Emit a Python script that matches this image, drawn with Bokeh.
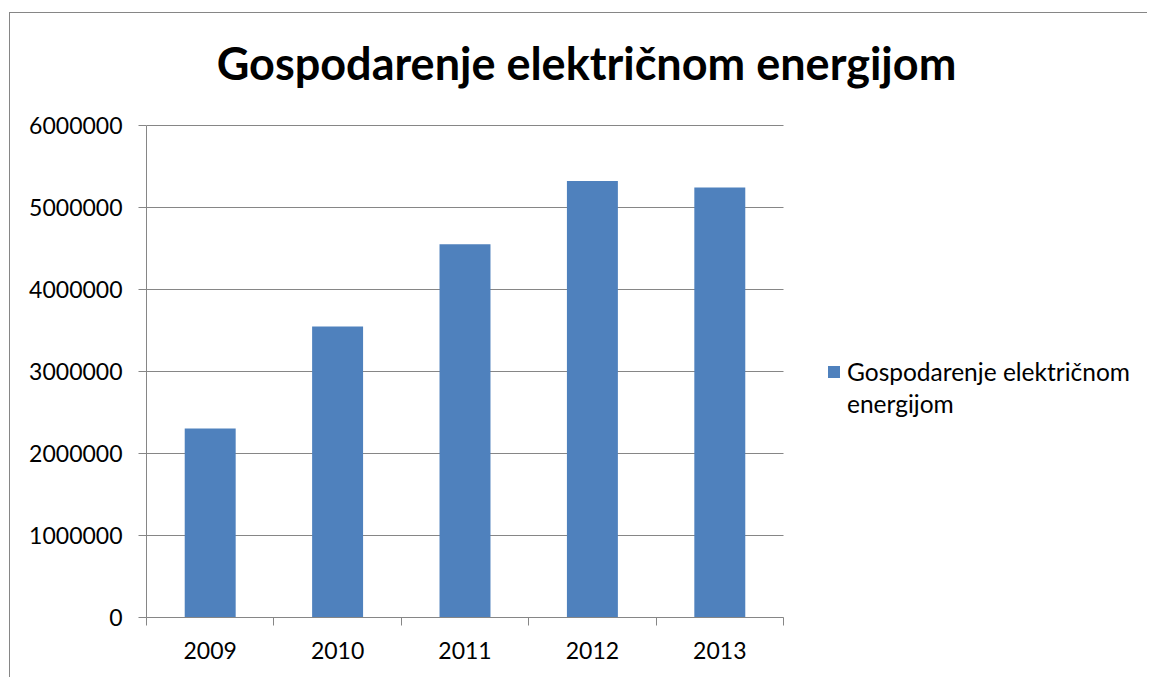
from bokeh.plotting import figure
from bokeh.models import (Legend, LegendItem, Label, FixedTicker,
                          BasicTickFormatter, Range1d)
from bokeh.embed import file_html
from bokeh.resources import INLINE

years = ["2009", "2010", "2011", "2012", "2013"]
values = [2305000, 3549000, 4552000, 5324000, 5244000]
title_text = "Gospodarenje električnom energijom"
legend_line1 = "Gospodarenje električnom"
legend_line2 = "energijom"
y_ticks = [0, 1000000, 2000000, 3000000, 4000000, 5000000, 6000000]

FONT = "Lato"
GRAY = "#868686"
BLUE = "#4F81BD"

n = len(years)
xs = [i + 0.5 for i in range(n)]
y_max = y_ticks[-1]

# layout (pixels inside the figure)
W, H = 1138, 665
FL = 136            # frame left
FB = 604            # frame bottom (y of zero line)
AXIS_W = 637        # width of the category axis
AXIS_H = 492        # height of the value axis
frame_w = W - FL
frame_h = FB

p = figure(width=W, height=H, output_backend="svg", toolbar_location=None,
           x_range=Range1d(0, n * frame_w / AXIS_W),
           y_range=Range1d(0, y_max * frame_h / AXIS_H),
           min_border_left=FL, min_border_right=0,
           min_border_top=0, min_border_bottom=H - FB)
p.styles = {"border-left": "1px solid " + GRAY, "border-top": "1px solid " + GRAY,
            "margin-left": "9px", "margin-top": "12px"}
p.outline_line_color = None
p.background_fill_color = "white"
p.border_fill_color = "white"
p.xgrid.visible = False
p.ygrid.visible = False

# horizontal gridlines, limited to the plot area
p.segment(x0=[0] * len(y_ticks), x1=[n] * len(y_ticks), y0=y_ticks, y1=y_ticks,
          line_color=GRAY, line_width=1)

r = p.vbar(x=xs, top=values, width=0.4, bottom=0, fill_color=BLUE, line_color=None)
dummy = p.vbar(x=[], top=[], width=0.4, fill_alpha=0, line_alpha=0)

# y axis
p.yaxis.bounds = (0, y_max)
p.yaxis.ticker = FixedTicker(ticks=y_ticks)
p.yaxis.formatter = BasicTickFormatter(use_scientific=False)
p.yaxis.axis_line_color = GRAY
p.yaxis.major_tick_line_color = GRAY
p.yaxis.major_tick_out = 8
p.yaxis.major_tick_in = 0
p.yaxis.minor_tick_line_color = None
p.yaxis.major_label_text_font = FONT
p.yaxis.major_label_text_font_size = "23px"
p.yaxis.major_label_text_color = "black"
p.yaxis.major_label_standoff = 16

# x axis: labels at centres, ticks at category boundaries
p.xaxis.bounds = (0, n)
p.xaxis.ticker = FixedTicker(ticks=xs, minor_ticks=list(range(n + 1)))
p.xaxis.major_label_overrides = {x: y for x, y in zip(xs, years)}
p.xaxis.axis_line_color = GRAY
p.xaxis.major_tick_line_color = None
p.xaxis.minor_tick_line_color = GRAY
p.xaxis.minor_tick_out = 8
p.xaxis.minor_tick_in = 0
p.xaxis.major_label_text_font = FONT
p.xaxis.major_label_text_font_size = "23px"
p.xaxis.major_label_text_color = "black"
p.xaxis.major_label_standoff = 16

# title
p.add_layout(Label(x=440, y=555, x_units="screen", y_units="screen",
                   text=title_text, text_font=FONT, text_font_style="bold",
                   text_font_size="45px", text_align="center",
                   text_baseline="alphabetic", text_color="black"))

# legend (two lines, glyph on the first line only)
legend = Legend(items=[LegendItem(label=legend_line1, renderers=[r]),
                       LegendItem(label=legend_line2, renderers=[dummy])],
                location=(680, 199), padding=0, margin=0, spacing=3,
                glyph_width=15, glyph_height=15, label_standoff=6,
                label_text_font=FONT, label_text_font_size="24.5px",
                label_text_color="black",
                border_line_color=None, background_fill_alpha=0)
p.add_layout(legend, "center")

open("out.html", "w").write(file_html(p, INLINE))
